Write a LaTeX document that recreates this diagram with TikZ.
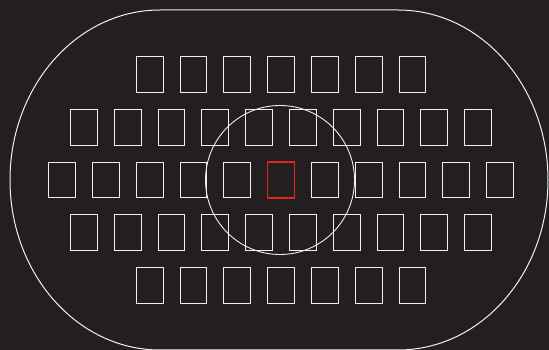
\documentclass[tikz,border=0pt]{standalone}
\definecolor{bg}{HTML}{231F20}
\definecolor{ln}{HTML}{F0F0F0}
\definecolor{af}{HTML}{E1251B}
\begin{document}
\begin{tikzpicture}[x=1pt,y=1pt,
  afbox/.style={draw=ln,line width=0.9pt,minimum width=26.8pt,minimum height=35.6pt,inner sep=0pt,outer sep=0pt},
  afsel/.style={afbox,draw=af,line width=1.6pt},
  frame/.style={draw=ln,line width=1pt}]
\fill[bg] (0,0) rectangle (549,350);
\useasboundingbox (0,0) rectangle (549,350);
% outer frame
\draw[frame] (160,340) -- (398,340)
  arc[start angle=90,end angle=-90,x radius=150,y radius=170]
  -- (160,0)
  arc[start angle=270,end angle=90,x radius=150,y radius=170] -- cycle;
% rows 1 and 5
\foreach \j in {-2,2}
  \foreach \k in {-3,...,3}
    \node[afbox] (sq\j\k) at ({281+43.8*\k},{170-52.75*\j}) {};
% rows 2 and 4
\foreach \j in {-1,1}
  \foreach \k in {-5,...,4}
    \node[afbox] (sq\j\k) at ({281+43.8*(\k+0.5)},{170-52.75*\j}) {};
% middle row
\foreach \k in {-5,...,-1,1,2,3,4,5}
  \node[afbox] (sq0\k) at ({281+43.8*\k},170) {};
\node[afsel] (center) at (281,170) {};
% central zone
\node[draw=ln,circle,line width=0.9pt,minimum size=149pt,inner sep=0pt] (zone) at (280,170) {};
\end{tikzpicture}
\end{document}
